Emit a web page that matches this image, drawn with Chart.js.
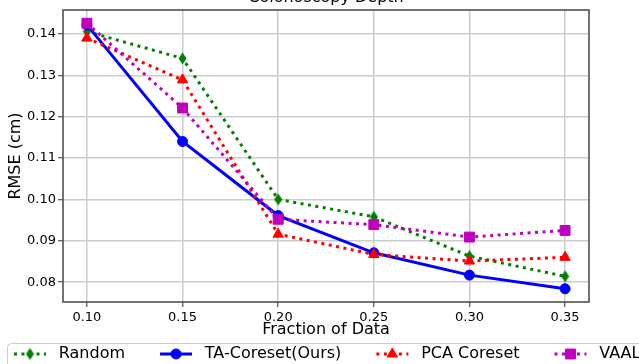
<!DOCTYPE html>
<html>
<head>
<meta charset="utf-8">
<script src="https://cdn.jsdelivr.net/npm/chart.js@4.4.1/dist/chart.umd.min.js"></script>
<style>
  body { margin: 0; background: #fff; }
  canvas { display: block; }
</style>
</head>
<body>
<canvas id="rmse-chart" width="639" height="364"></canvas>
<script>
const fractions = [0.10, 0.15, 0.20, 0.25, 0.30, 0.35];
const randomRmse = [0.1406, 0.1341, 0.1000, 0.0958, 0.0863, 0.0814];
const taCoresetRmse = [0.1422, 0.1140, 0.0961, 0.0871, 0.0817, 0.0784];
const pcaCoresetRmse = [0.1390, 0.1289, 0.0916, 0.0867, 0.0851, 0.0860];
const vaalRmse = [0.1426, 0.1221, 0.0952, 0.0939, 0.0909, 0.0925];
const xTicks = [0.10, 0.15, 0.20, 0.25, 0.30, 0.35];
const yTicks = [0.08, 0.09, 0.10, 0.11, 0.12, 0.13, 0.14];

const FONT = '"DejaVu Sans", sans-serif';

// matplotlib style thin diamond marker ('d')
function thinDiamond(color) {
  const c = document.createElement('canvas');
  c.width = 9;
  c.height = 13;
  const g = c.getContext('2d');
  g.fillStyle = color;
  g.beginPath();
  g.moveTo(4.5, 0.5);
  g.lineTo(8.5, 6.5);
  g.lineTo(4.5, 12.5);
  g.lineTo(0.5, 6.5);
  g.closePath();
  g.fill();
  return c;
}

function series(label, values, color, style, radius, dashed, order) {
  return {
    label: label,
    data: fractions.map((f, i) => ({ x: f, y: values[i] })),
    borderColor: color,
    backgroundColor: color,
    borderWidth: 3,
    borderDash: dashed ? [3, 4.5] : [],
    borderCapStyle: 'butt',
    pointStyle: style,
    pointRadius: radius,
    pointHoverRadius: radius,
    pointBorderWidth: 1,
    pointBackgroundColor: color,
    pointBorderColor: color,
    tension: 0,
    order: order
  };
}

const frameAndLegend = {
  id: 'frameAndLegend',
  afterDraw(chart) {
    const ctx = chart.ctx;
    const a = chart.chartArea;
    ctx.save();

    // spines
    ctx.strokeStyle = '#444';
    ctx.lineWidth = 1.5;
    ctx.setLineDash([]);
    ctx.strokeRect(a.left, a.top, a.right - a.left, a.bottom - a.top);

    // title, mostly cut off by the top edge
    ctx.fillStyle = '#000';
    ctx.font = '16px ' + FONT;
    ctx.textAlign = 'center';
    ctx.textBaseline = 'alphabetic';
    ctx.fillText('Colonoscopy Depth', (a.left + a.right) / 2, 1.5);

    // legend below the axis
    ctx.fillStyle = 'rgba(255,255,255,0.8)';
    ctx.strokeStyle = '#cccccc';
    ctx.lineWidth = 1;
    ctx.beginPath();
    ctx.roundRect(7.5, 343.5, 700, 40, 4);
    ctx.fill();
    ctx.stroke();

    ctx.font = '16px ' + FONT;
    ctx.textAlign = 'left';
    ctx.textBaseline = 'middle';
    const y = 354;
    let x = 14;
    chart.data.datasets.forEach(ds => {
      ctx.strokeStyle = ds.borderColor;
      ctx.lineWidth = ds.borderWidth;
      ctx.lineCap = 'butt';
      ctx.setLineDash(ds.borderDash);
      ctx.beginPath();
      ctx.moveTo(x, y);
      ctx.lineTo(x + 32, y);
      ctx.stroke();
      ctx.setLineDash([]);
      ctx.fillStyle = ds.pointBackgroundColor;
      ctx.strokeStyle = ds.pointBorderColor;
      ctx.lineWidth = 1;
      Chart.helpers.drawPoint(ctx, {
        pointStyle: ds.pointStyle,
        radius: ds.pointRadius,
        rotation: 0,
        borderWidth: 1
      }, x + 16, y);
      ctx.fillStyle = '#000';
      ctx.fillText(ds.label, x + 44.8, y);
      x += 44.8 + ctx.measureText(ds.label).width + 35;
    });
    ctx.restore();
  }
};

const ctx = document.getElementById('rmse-chart').getContext('2d');

new Chart(ctx, {
  type: 'line',
  data: {
    datasets: [
      series('Random', randomRmse, '#008000', thinDiamond('#008000'), 6, true, 3),
      series('TA-Coreset(Ours)', taCoresetRmse, '#0000ff', 'circle', 5, false, 2),
      series('PCA Coreset', pcaCoresetRmse, '#ff0000', 'triangle', 6, true, 1),
      series('VAAL', vaalRmse, '#bf00bf', 'rect', 7, true, 0)
    ]
  },
  options: {
    responsive: false,
    animation: false,
    events: [],
    layout: { padding: { top: 10, right: 50, bottom: 25, left: 0 } },
    plugins: {
      legend: { display: false },
      tooltip: { enabled: false }
    },
    scales: {
      x: {
        type: 'linear',
        min: 0.0875,
        max: 0.3625,
        afterBuildTicks: s => { s.ticks = xTicks.map(v => ({ value: v })); },
        afterFit: s => { s.height = 37; },
        ticks: {
          callback: v => v.toFixed(2),
          color: '#000',
          font: { family: FONT, size: 13 },
          padding: 3,
          autoSkip: false,
          maxRotation: 0
        },
        grid: { color: '#cccccc', lineWidth: 1.5, tickLength: 5, tickColor: '#333', tickWidth: 1 },
        border: { display: false },
        title: {
          display: true,
          text: 'Fraction of Data',
          color: '#000',
          font: { family: FONT, size: 16 },
          padding: 0
        }
      },
      y: {
        min: 0.0752,
        max: 0.1458,
        afterBuildTicks: s => { s.ticks = yTicks.map(v => ({ value: v })); },
        afterFit: s => { s.width = 63; },
        ticks: {
          callback: v => v.toFixed(2),
          color: '#000',
          font: { family: FONT, size: 13 },
          padding: 2,
          autoSkip: false
        },
        grid: { color: '#cccccc', lineWidth: 1.5, tickLength: 5, tickColor: '#333', tickWidth: 1 },
        border: { display: false },
        title: {
          display: true,
          text: 'RMSE (cm)',
          color: '#000',
          font: { family: FONT, size: 16 },
          padding: { top: 6, bottom: 0 }
        }
      }
    }
  },
  plugins: [frameAndLegend]
});
</script>
</body>
</html>
